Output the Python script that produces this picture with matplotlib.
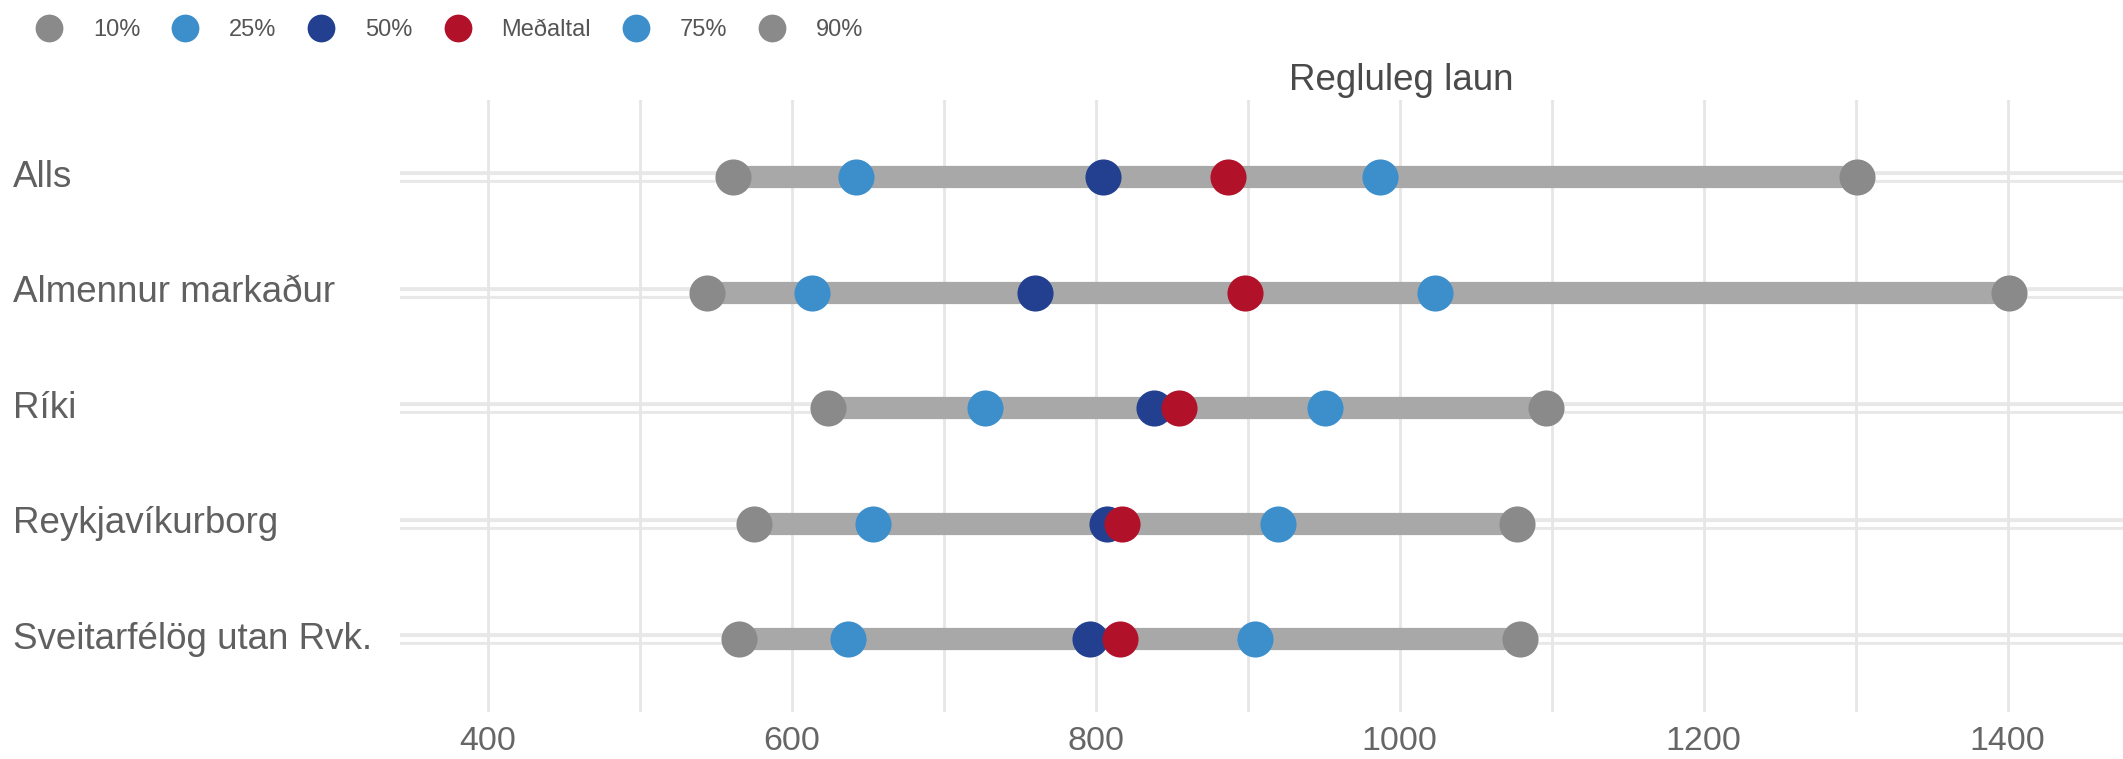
import matplotlib.pyplot as plt
import matplotlib.transforms as mtransforms
from matplotlib.lines import Line2D
from matplotlib.ticker import MultipleLocator

plt.rcParams['font.family'] = ['Liberation Sans', 'DejaVu Sans']

# data
groups = ['Alls', 'Almennur markaður', 'Ríki', 'Reykjavíkurborg', 'Sveitarfélög utan Rvk.']
p10 = [561, 544, 624, 575, 565]
p25 = [642, 613, 727, 653, 637]
p50 = [805, 760, 838, 807, 796]
mean = [887, 898, 855, 817, 816]
p75 = [987, 1023, 951, 920, 905]
p90 = [1301, 1401, 1096, 1077, 1079]

series_names = ['10%', '25%', '50%', 'Meðaltal', '75%', '90%']
GREY = '#8a8a8a'
LBLUE = '#3d8fcc'
DBLUE = '#22408f'
RED = '#b1122a'
colors = [GREY, LBLUE, DBLUE, RED, LBLUE, GREY]

fig = plt.figure(figsize=(21.23, 7.59), dpi=100)
ax = fig.add_axes([0.1884, 0.062, 0.8116, 0.806])

y = list(range(len(groups)))

# vertical grid
ax.xaxis.set_major_locator(MultipleLocator(200))
ax.xaxis.set_minor_locator(MultipleLocator(100))
ax.grid(which='both', axis='x', color='#e6e6e6', lw=2, zorder=0)

# horizontal "double" grid lines
for yi in y:
    ax.axhline(yi, color='#e8e8e8', lw=8.5, zorder=0)
    ax.axhline(yi, color='white', lw=3.5, zorder=0.1)

# range bars
ax.hlines(y, p10, p90, color='#a8a8a8', lw=16, zorder=2)

for vals, c in zip([p10, p25, p50, mean, p75, p90], colors):
    ax.scatter(vals, y, s=26 ** 2, color=c, zorder=3, linewidths=0)

ax.set_xlim(342, 1476)
ax.set_ylim(4.63, -0.667)
ax.set_xticks([400, 600, 800, 1000, 1200, 1400])
ax.tick_params(axis='x', which='both', length=0, labelsize=24.5, labelcolor='#666666', pad=10)
ax.tick_params(axis='y', length=0, labelleft=False)
for s in ax.spines.values():
    s.set_visible(False)

# category labels, left aligned at the figure edge
trans = mtransforms.blended_transform_factory(fig.transFigure, ax.transData)
for yi, g in zip(y, groups):
    ax.text(13 / 2123, yi, g, transform=trans, ha='left', va='center',
            fontsize=26.5, color='#606060')

fig.text(1401 / 2123, 1 - 81 / 759, 'Regluleg laun', ha='center', va='center',
         fontsize=26.5, color='#4a4a4a')

handles = [Line2D([], [], marker='o', ls='', markersize=20, color=c, markeredgewidth=0)
           for c in colors]
fig.legend(handles, series_names, loc='upper left', bbox_to_anchor=(0.0087, 1.0),
           ncol=6, frameon=False, fontsize=17, handlelength=1.0, handletextpad=1.36,
           columnspacing=1.4, borderpad=0.3, labelcolor='#555555')

fig.savefig('out.png', dpi=100)
